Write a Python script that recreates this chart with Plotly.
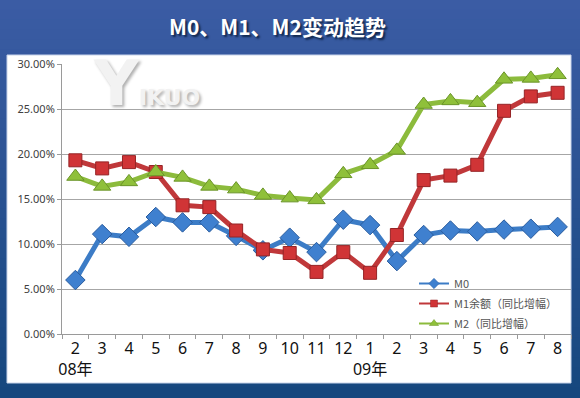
import plotly.graph_objects as go

# ---------------- data ----------------
months = ["2", "3", "4", "5", "6", "7", "8", "9", "10", "11", "12",
          "1", "2", "3", "4", "5", "6", "7", "8"]
tick_labels = ["2<br>08年", "3", "4", "5", "6", "7", "8", "9", "10", "11", "12",
               "1<br>09年", "2", "3", "4", "5", "6", "7", "8"]
m0 = [6.0, 11.1, 10.8, 13.0, 12.4, 12.4, 10.9, 9.3, 10.7, 9.1, 12.7,
      12.1, 8.1, 11.0, 11.5, 11.4, 11.6, 11.7, 11.9]
m1 = [19.3, 18.4, 19.1, 18.0, 14.3, 14.1, 11.5, 9.4, 9.0, 6.9, 9.1,
      6.8, 11.0, 17.1, 17.6, 18.8, 24.8, 26.4, 26.8]
m2 = [17.5, 16.4, 16.9, 18.0, 17.4, 16.4, 16.1, 15.4, 15.1, 14.9, 17.8,
      18.8, 20.4, 25.5, 25.9, 25.7, 28.3, 28.4, 28.8]
series_names = ["M0", "M1余额（同比增幅）", "M2（同比增幅）"]
y_ticks = [0, 5, 10, 15, 20, 25, 30]

# ---------------- layout geometry ----------------
W, H = 580, 398
L, R, T, B = 62, 9, 64, 64
PW, PH = W - L - R, H - T - B


def px_x(px):
    return (px - L) / PW


def px_y(py):
    return (H - B - py) / PH


x = list(range(len(months)))

fig = go.Figure()

styles = [
    dict(line="#3c7cc6", symbol="diamond", size=15, color="#3f80cf", edge="#2a5c9e", lsize=8),
    dict(line="#c0383a", symbol="square", size=13, color="#d03436", edge="#952426", lsize=7),
    dict(line="#8cbb3c", symbol="triangle-up", size=15, color="#8fc03a", edge="#6a9428", lsize=8),
]

for name, vals, st in zip(series_names, [m0, m1, m2], styles):
    fig.add_trace(go.Scatter(
        x=x, y=[v / 100 for v in vals], name=name, mode="lines+markers",
        line=dict(color=st["line"], width=5),
        marker=dict(symbol=st["symbol"], size=st["size"], color=st["color"],
                    line=dict(color=st["edge"], width=1)),
        showlegend=False, hoverinfo="skip",
    ))

# legend-only entries with small symbols (as in the reference legend)
for i, (name, st) in enumerate(zip(series_names, styles)):
    fig.add_trace(go.Scatter(
        x=[None], y=[None], name=name, mode="lines+markers", legendgroup="g%d" % i,
        line=dict(color=st["line"], width=2),
        marker=dict(symbol=st["symbol"], size=st["lsize"], color=st["color"],
                    line=dict(color=st["edge"], width=0.5)),
        showlegend=True,
    ))

# background gradient strips
top_c = (0x3b, 0x5c, 0xa4)
bot_c = (0x16, 0x47, 0x7e)
n = 40
shapes = []
y_top, y_bot = px_y(0), px_y(H)
for i in range(n):
    f = i / (n - 1)
    c = tuple(int(round(top_c[k] + (bot_c[k] - top_c[k]) * f)) for k in range(3))
    y1 = y_top + (y_bot - y_top) * i / n
    y0 = y_top + (y_bot - y_top) * (i + 1) / n
    shapes.append(dict(type="rect", xref="paper", yref="paper",
                       x0=px_x(0), x1=px_x(W), y0=y0 - 0.002, y1=y1 + 0.002,
                       fillcolor="rgb(%d,%d,%d)" % c, line=dict(width=0), layer="below"))
# white chart box
shapes.append(dict(type="rect", xref="paper", yref="paper",
                   x0=px_x(7), x1=px_x(571), y0=px_y(383), y1=px_y(55),
                   fillcolor="white", line=dict(color="#c8d4ea", width=1), layer="below"))

fig.update_layout(
    width=W, height=H,
    margin=dict(l=L, r=R, t=T, b=B, autoexpand=False),
    paper_bgcolor="rgb(22,71,126)",
    plot_bgcolor="rgba(0,0,0,0)",
    shapes=shapes,
    showlegend=True,
    hovermode=False,
    legend=dict(x=px_x(414), y=px_y(269), xanchor="left", yanchor="top",
                bgcolor="rgba(0,0,0,0)", font=dict(family="Noto Sans CJK SC", size=11, color="#555555"),
                tracegroupgap=1, traceorder="grouped"),
    annotations=[
        dict(text="M0、M1、M2变动趋势", xref="paper", yref="paper",
             x=px_x(277), y=px_y(26), xanchor="center", yanchor="middle", showarrow=False,
             font=dict(family="Noto Sans CJK SC", size=21, color="white", weight="bold",
                       shadow="2px 2px 2px #10264a")),
        dict(text="<span style='font-size:62px'>Y</span><span style='font-size:22px'>IKUO</span>",
             xref="paper", yref="paper", x=px_x(91), y=px_y(122), xanchor="left", yanchor="bottom",
             showarrow=False,
             font=dict(family="DejaVu Sans", color="#f2f2f2", weight="bold",
                       shadow="2px 2px 3px #b0b0b0")),
    ],
    xaxis=dict(
        range=[-0.5, len(months) - 0.5], tickvals=x, ticktext=tick_labels,
        ticks="", showgrid=False, zeroline=False, tickangle=0, automargin=False,
        showline=True, linecolor="#9a9a9a", linewidth=1, fixedrange=True,
        tickfont=dict(family="Noto Sans, Noto Sans CJK SC", size=16, color="#111111"),
        minor=dict(tick0=-0.5, dtick=1, ticks="outside", ticklen=4, tickcolor="#9a9a9a", showgrid=False),
    ),
    yaxis=dict(
        range=[0, 0.3], tickvals=[v / 100 for v in y_ticks], tickformat=".2%",
        showgrid=True, gridcolor="#a6a6a6", gridwidth=1, zeroline=False, automargin=False,
        showline=True, linecolor="#9a9a9a", linewidth=1, fixedrange=True,
        ticks="outside", ticklen=4, tickcolor="#9a9a9a",
        tickfont=dict(family="Noto Sans", size=11, color="#404040"),
    ),
)

fig.write_html("out.html", config={"displayModeBar": False},
               post_script="document.body.style.margin='0';")
